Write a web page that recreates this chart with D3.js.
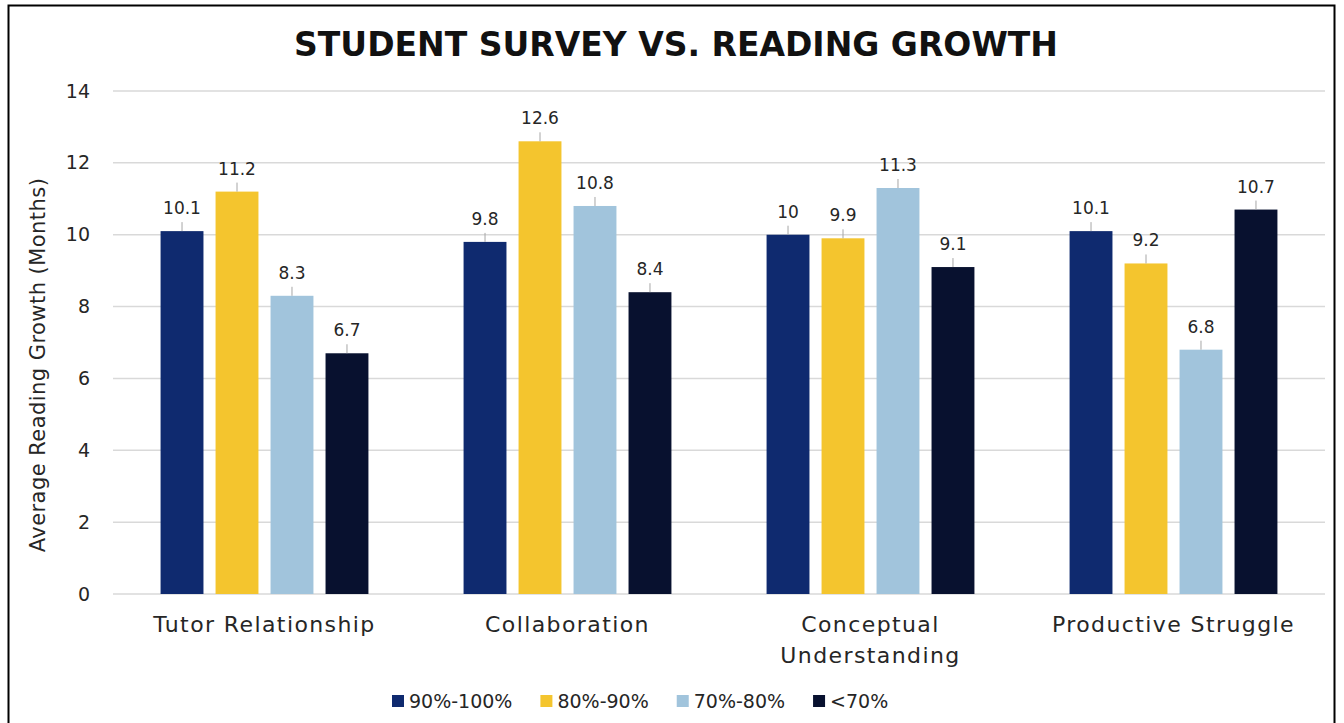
<!DOCTYPE html>
<html>
<head>
<meta charset="utf-8">
<script src="https://cdn.jsdelivr.net/npm/d3@7"></script>
<style>
  html, body { margin: 0; padding: 0; background: #fff; }
  svg { display: block; font-family: "DejaVu Sans", sans-serif; }
</style>
</head>
<body>
<svg id="chart" width="1344" height="723"></svg>
<script>
// Survey dimensions along the x axis
const categories = ["Tutor Relationship", "Collaboration", "Conceptual Understanding", "Productive Struggle"];
// Score tiers (one bar per tier in each group)
const seriesNames = ["90%-100%", "80%-90%", "70%-80%", "<70%"];
// Average reading growth in months, per tier, in category order
const tier90to100 = [10.1, 9.8, 10, 10.1];
const tier80to90 = [11.2, 12.6, 9.9, 9.2];
const tier70to80 = [8.3, 10.8, 11.3, 6.8];
const tierBelow70 = [6.7, 8.4, 9.1, 10.7];
const yTickValues = [0, 2, 4, 6, 8, 10, 12, 14];

const seriesValues = [tier90to100, tier80to90, tier70to80, tierBelow70];
const colors = ["#0f2a6f", "#f4c52e", "#a1c4dc", "#08112f"];
const textColor = "#262626";

const svg = d3.select("#chart");

// Outer frame
svg.append("rect")
  .attr("x", 8.5).attr("y", 5.5)
  .attr("width", 1326).attr("height", 760)
  .attr("fill", "none").attr("stroke", "#000").attr("stroke-width", 2);

// Title
svg.append("text")
  .attr("x", 676).attr("y", 56)
  .attr("text-anchor", "middle")
  .attr("font-size", 33).attr("font-weight", 600)
  .attr("fill", "#111")
  .text("STUDENT SURVEY VS. READING GROWTH");

const plotLeft = 113, plotRight = 1325;
const y = d3.scaleLinear().domain([0, 14]).range([594, 91]);
const x0 = d3.scaleBand().domain(categories).range([plotLeft, plotRight]).padding(0);
const bw = x0.bandwidth();
const x1 = d3.scaleBand().domain(seriesNames)
  .range([bw * 0.157, bw * 0.843]).paddingInner(0.22).paddingOuter(0);

// Horizontal gridlines
svg.append("g").selectAll("line")
  .data(yTickValues)
  .join("line")
  .attr("x1", plotLeft).attr("x2", plotRight)
  .attr("y1", d => y(d)).attr("y2", d => y(d))
  .attr("stroke", "#d9d9d9").attr("stroke-width", 1.5);

// Y axis tick labels
const yAxis = d3.axisLeft(y).tickValues(yTickValues).tickSize(0).tickPadding(0);
const yAxisG = svg.append("g").attr("transform", "translate(90,0)").call(yAxis);
yAxisG.select(".domain").remove();
yAxisG.selectAll("text")
  .attr("font-family", "DejaVu Sans, sans-serif")
  .attr("font-size", 19).attr("fill", textColor);

// Y axis title
svg.append("text")
  .attr("transform", "translate(45,365) rotate(-90)")
  .attr("text-anchor", "middle")
  .attr("font-size", 21).attr("letter-spacing", 0.45)
  .attr("fill", textColor)
  .text("Average Reading Growth (Months)");

// Bars grouped by category
const rows = categories.map((c, i) => ({
  category: c,
  values: seriesNames.map((s, j) => ({ series: s, value: seriesValues[j][i], color: colors[j] }))
}));

const groups = svg.append("g").selectAll("g")
  .data(rows)
  .join("g")
  .attr("transform", d => `translate(${x0(d.category)},0)`);

groups.selectAll("rect")
  .data(d => d.values)
  .join("rect")
  .attr("x", d => x1(d.series))
  .attr("width", x1.bandwidth())
  .attr("y", d => y(d.value))
  .attr("height", d => y(0) - y(d.value))
  .attr("fill", d => d.color);

// Leader lines between value labels and bar tops
groups.selectAll("line.leader")
  .data(d => d.values)
  .join("line")
  .attr("class", "leader")
  .attr("x1", d => x1(d.series) + x1.bandwidth() / 2)
  .attr("x2", d => x1(d.series) + x1.bandwidth() / 2)
  .attr("y1", d => y(d.value) - 9)
  .attr("y2", d => y(d.value))
  .attr("stroke", "#a6a6a6").attr("stroke-width", 1);

// Value labels
groups.selectAll("text.value")
  .data(d => d.values)
  .join("text")
  .attr("class", "value")
  .attr("x", d => x1(d.series) + x1.bandwidth() / 2)
  .attr("y", d => y(d.value) - 17)
  .attr("text-anchor", "middle")
  .attr("font-size", 17).attr("fill", textColor)
  .text(d => d3.format("~g")(d.value));

// Category labels, wrapped when wider than the group
const catLabels = svg.append("g").selectAll("text")
  .data(categories)
  .join("text")
  .attr("x", d => x0(d) + bw / 2)
  .attr("y", 632)
  .attr("text-anchor", "middle")
  .attr("font-size", 22).attr("letter-spacing", 1.4)
  .attr("fill", textColor)
  .text(d => d);

catLabels.each(function (d) {
  const t = d3.select(this);
  if (this.getComputedTextLength() > bw * 0.95) {
    const words = d.split(" ");
    t.text(null);
    words.forEach((w, i) => {
      t.append("tspan")
        .attr("x", x0(d) + bw / 2)
        .attr("dy", i === 0 ? 0 : 31)
        .text(w);
    });
  }
});

// Legend
const legend = svg.append("g").attr("transform", "translate(392,701)");
let lx = 0;
seriesNames.forEach((s, i) => {
  const item = legend.append("g").attr("transform", `translate(${lx},0)`);
  item.append("rect")
    .attr("x", 0).attr("y", -6).attr("width", 12).attr("height", 12)
    .attr("fill", colors[i]);
  const txt = item.append("text")
    .attr("x", 17).attr("y", 7)
    .attr("font-size", 19).attr("fill", textColor)
    .text(s);
  lx += 17 + txt.node().getComputedTextLength() + 28;
});
</script>
</body>
</html>
